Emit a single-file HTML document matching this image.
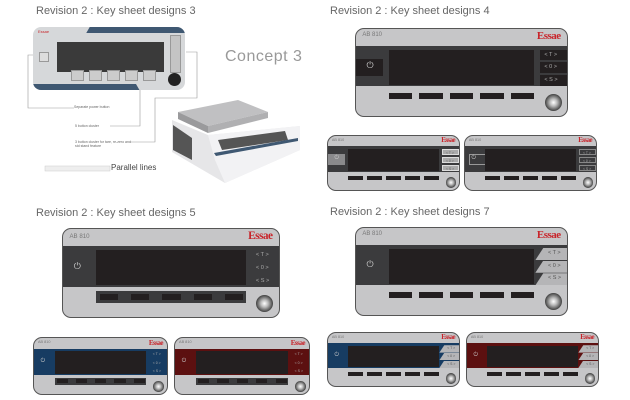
<!DOCTYPE html>
<html><head><meta charset="utf-8"><style>
body{margin:0;width:630px;height:400px;background:#fff;position:relative;overflow:hidden;font-family:"Liberation Sans",sans-serif}
.t{position:absolute;font-size:11px;color:#666;white-space:nowrap}
.p{position:absolute;background:#c6c6c8;border:1px solid #555;border-radius:9px;overflow:hidden;box-sizing:border-box}
.p div{position:absolute;box-sizing:border-box}
.ab{color:#777}
.es{color:#c8252b;font-family:"Liberation Serif",serif;font-weight:bold;letter-spacing:-0.5px}
</style></head><body>
<div class="t" style="left:36px;top:5px">Revision 2 : Key sheet designs 3</div>
<div class="t" style="left:330px;top:5px">Revision 2 : Key sheet designs 4</div>
<div class="t" style="left:36px;top:207px">Revision 2 : Key sheet designs 5</div>
<div class="t" style="left:330px;top:206px">Revision 2 : Key sheet designs 7</div>

<!-- design 3 -->
<div style="position:absolute;left:33px;top:27px;width:152px;height:63px;background:#d6d8da;border-radius:8px;overflow:hidden">
 <div style="position:absolute;left:55px;top:0;width:110px;height:6px;background:#3f5872;transform:skewX(-30deg)"></div>
 <div style="position:absolute;left:-10px;top:57px;width:115px;height:7px;background:#3f5872;transform:skewX(30deg)"></div>
 <div style="position:absolute;left:24px;top:15px;width:107px;height:30px;background:#3a3a3a"></div>
 <div style="position:absolute;left:6px;top:25px;width:8px;height:8px;border:1px solid #999;background:#ddd"></div>
 <div style="position:absolute;left:38px;top:43px;width:100px;height:9px;display:flex;gap:5px"><b style="width:11px;height:9px;border:1px solid #999;background:#ccc"></b><b style="width:11px;height:9px;border:1px solid #999;background:#ccc"></b><b style="width:11px;height:9px;border:1px solid #999;background:#ccc"></b><b style="width:11px;height:9px;border:1px solid #999;background:#ccc"></b><b style="width:11px;height:9px;border:1px solid #999;background:#ccc"></b></div>
 <div style="position:absolute;left:137px;top:8px;width:9px;height:36px;background:#c4c4c4;border:1px solid #999"></div>
 <div style="position:absolute;left:135px;top:46px;width:13px;height:13px;border-radius:50%;background:#222"></div>
 <div style="position:absolute;left:5px;top:2px;font-size:4px;color:#c8252b">Essae</div>
</div>
<svg style="position:absolute;left:0;top:0" width="630" height="400"><g fill="none" stroke="#999" stroke-width="0.6">
<path d="M33 55 H28 V108 H74"/><path d="M140 90 V126 H110"/><path d="M186 52 H197 V98 H155 V142 H130"/></g>
<rect x="45" y="166" width="65" height="5" fill="#eee" stroke="#ccc" stroke-width="0.5"/>
<polygon points="178,112 238,100 268,112 208,126" fill="#c0c0c2"/>
<polygon points="178,112 208,126 208,133 178,119" fill="#9a9a9c"/>
<polygon points="208,126 268,112 268,118 208,133" fill="#b0b0b2"/>
<polygon points="172,120 208,135 300,126 300,150 225,183 172,152" fill="#e6e6e8"/>
<polygon points="208,135 300,126 300,150 225,183 215,160" fill="#f2f2f4"/>
<polygon points="218,140 285,131 288,140 222,150" fill="#555"/>
<polygon points="173,125 192,138 192,160 173,150" fill="#555"/>
<polygon points="214,153 298,138 298,141 216,156" fill="#3f5872"/>
</svg>
<div class="t" style="left:111px;top:163px;font-size:8px;color:#444">Parallel lines</div>
<div class="t" style="left:225px;top:48px;font-size:16px;color:#999;letter-spacing:0.5px">Concept 3</div>
<div class="t" style="left:74px;top:105px;font-size:3.5px;color:#666">Separate power button</div>
<div class="t" style="left:75px;top:124px;font-size:3.5px;color:#666">5 button cluster</div>
<div class="t" style="left:75px;top:140px;font-size:3.5px;color:#666">3 button cluster for tare, re-zero and<br>std stand feature</div>

<div id="root"></div>
<script>
function panel(x,y,w,h,o){
 var H='';var s=w/213;
 var band=o.band||'#3b3b3d';
 H+='<div class="ab" style="left:3%;top:4%;font-size:'+(6*s)+'px">AB 8'+'10</div>';
 H+='<div class="es" style="right:3%;top:1%;font-size:'+(11*s)+'px">Essae</div>';
 H+='<div style="left:0;top:19%;width:100%;height:47%;background:'+band+'"></div>';
 if(o.pbox) H+='<div style="left:0;top:34%;width:13%;height:20%;background:'+o.pbox+';'+(o.pbord?'border:1px solid #999;left:3%;':'')+'"></div>';
 H+='<div style="left:5%;top:36%;color:'+(o.pcol||'#ccc')+';font-size:'+(9*s)+'px">&#x23FB;</div>';
 H+='<div style="left:15.5%;top:24%;width:69%;height:40%;background:#231f20"></div>';
 var sy=[24,38.5,53];
 for(var i=0;i<3;i++){
  var lab=['&lt; T &gt;','&lt; 0 &gt;','&lt; S &gt;'][i];
  var st='left:87.3%;top:'+sy[i]+'%;width:13%;height:12%;font-size:'+(5.5*s)+'px;color:#aaa;padding-left:2%;line-height:'+(10*s)+'px;';
  if(o.side=='box') st+='background:#231f20;';
  if(o.side=='gray') st+='background:#aaa;border:1px solid #ddd;color:#666;';
  if(o.side=='outline') st+='border:1px solid #888;';
  if(o.side=='tri') st+='background:#b5b5b7;clip-path:polygon(25% 0,100% 0,100% 100%,0 100%);color:#555;height:14%;top:'+(sy[i]-1)+'%;left:85%;width:15%;padding-left:6%;';
  H+='<div style="'+st+'">'+lab+'</div>';
 }
 if(o.bar) H+='<div style="left:15.5%;top:71%;width:69%;height:13%;background:#3b3b3d"></div>';
 var bx=[15.5,30,44.5,59,73.5];
 for(var i=0;i<5;i++) H+='<div style="left:'+(bx[i]+(o.bar?1.5:0))+'%;top:74%;width:'+(o.bar?8.5:11)+'%;height:7%;background:#231f20"></div>';
 var k=17*s;
 H+='<div style="left:'+(w*0.925-k/2)+'px;top:'+(h*0.83-k/2)+'px;width:'+k+'px;height:'+k+'px;border-radius:50%;background:radial-gradient(circle at 50% 50%,#fff 0,#bbb 30%,#333 75%,#111 100%)"></div>';
 return '<div class="p" style="left:'+x+'px;top:'+y+'px;width:'+w+'px;height:'+h+'px">'+H+'</div>';
}
var r='';
r+=panel(355,28,213,89,{side:'box',pbox:'#231f20'});
r+=panel(327,135,133,56,{side:'gray',pbox:'#8a8a8c'});
r+=panel(464,135,133,56,{side:'outline',pbox:'#3b3b3d',pbord:1});
r+=panel(62,228,218,90,{side:'none',bar:1});
r+=panel(33,337,135,58,{side:'none',bar:1,band:'#173c62'});
r+=panel(174,337,136,58,{side:'none',bar:1,band:'#5c1010'});
r+=panel(355,227,213,89,{side:'tri'});
r+=panel(327,332,133,55,{side:'tri',band:'#173c62'});
r+=panel(466,332,133,55,{side:'tri',band:'#5c1010'});
document.getElementById('root').innerHTML=r;
</script>
</body></html>
